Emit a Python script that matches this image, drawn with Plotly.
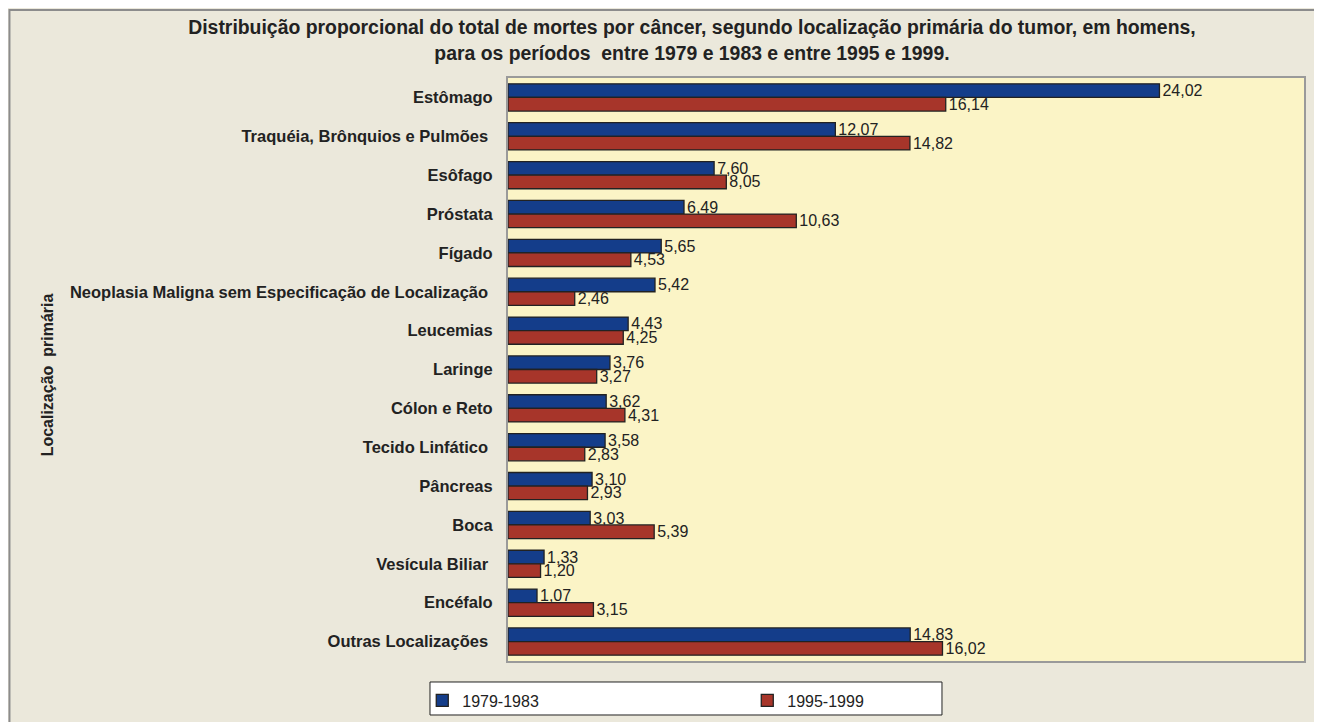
import plotly.graph_objects as go

categories = ["Estômago", "Traquéia, Brônquios e Pulmões ", "Esôfago", "Próstata", "Fígado",
              "Neoplasia Maligna sem Especificação de Localização ", "Leucemias", "Laringe",
              "Cólon e Reto", "Tecido Linfático ", "Pâncreas", "Boca", "Vesícula Biliar ",
              "Encéfalo", "Outras Localizações "]
v1979 = [24.02, 12.07, 7.60, 6.49, 5.65, 5.42, 4.43, 3.76, 3.62, 3.58, 3.10, 3.03, 1.33, 1.07, 14.83]
v1995 = [16.14, 14.82, 8.05, 10.63, 4.53, 2.46, 4.25, 3.27, 4.31, 2.83, 2.93, 5.39, 1.20, 3.15, 16.02]
series_names = ["1979-1983", "1995-1999"]

FONT = "Liberation Sans, Arial, sans-serif"
TXT = "#222222"

def fmt(v):
    return f"{v:.2f}".replace(".", ",")

fig = go.Figure()
for name, vals, col in [(series_names[0], v1979, "#143D8A"), (series_names[1], v1995, "#A7352A")]:
    fig.add_trace(go.Bar(y=categories, x=vals, orientation="h", name=name,
                         marker=dict(color=col, line=dict(color="#222222", width=1.3)),
                         text=[fmt(v) for v in vals], textposition="outside",
                         constraintext="none",
                         textfont=dict(family=FONT, size=16, color=TXT),
                         cliponaxis=False))

fig.update_layout(
    width=1314, height=714,
    paper_bgcolor="#EBE8DB", plot_bgcolor="#FBF4C6",
    margin=dict(l=500, r=18, t=70, b=61),
    barmode="group", bargap=0.3, bargroupgap=0.0,
    font=dict(family=FONT, color=TXT),
    title=dict(text="Distribuição proporcional do total de mortes por câncer, segundo localização primária do tumor, em homens,<br>para os períodos  entre 1979 e 1983 e entre 1995 e 1999.",
               x=0.5205, xanchor="center", y=0.963, yanchor="top",
               font=dict(family=FONT, size=19.4, color=TXT, weight="bold")),
    showlegend=True,
    legend=dict(orientation="h", x=-0.1077, xanchor="left",
                yref="container", y=0.054, yanchor="top",
                bgcolor="rgba(0,0,0,0)", borderwidth=0,
                font=dict(family=FONT, size=16, color=TXT), entrywidth=280, traceorder="normal",
                itemwidth=30),
)
fig.update_xaxes(range=[0, 29.35], showticklabels=False, showgrid=False, zeroline=False,
                 showline=True, linecolor="#9A9A9A", linewidth=2, mirror=True, ticks="")
fig.update_yaxes(autorange="reversed", showgrid=False, zeroline=False, showline=True,
                 linecolor="#9A9A9A", linewidth=2, mirror=True,
                 ticks="", ticklabelstandoff=10,
                 tickfont=dict(family=FONT, size=16.5, color=TXT, weight="bold"))
fig.add_annotation(text="Localização  primária", xref="paper", yref="paper",
                   x=-0.5906, y=0.4906, textangle=-90, showarrow=False,
                   font=dict(family=FONT, size=16, color=TXT, weight="bold"))
# outer frame
fig.add_shape(type="rect", xref="paper", yref="paper",
              x0=-0.6263, y0=-0.2, x1=1.1, y1=1.1166,
              line=dict(color="#8C8C8C", width=2), layer="below")
# legend box
fig.add_shape(type="rect", xref="paper", yref="paper",
              x0=-0.098, y0=-0.0926, x1=0.5452, y1=-0.036,
              line=dict(color="#222222", width=1), fillcolor="white", layer="below")
fig.write_html("out.html")
